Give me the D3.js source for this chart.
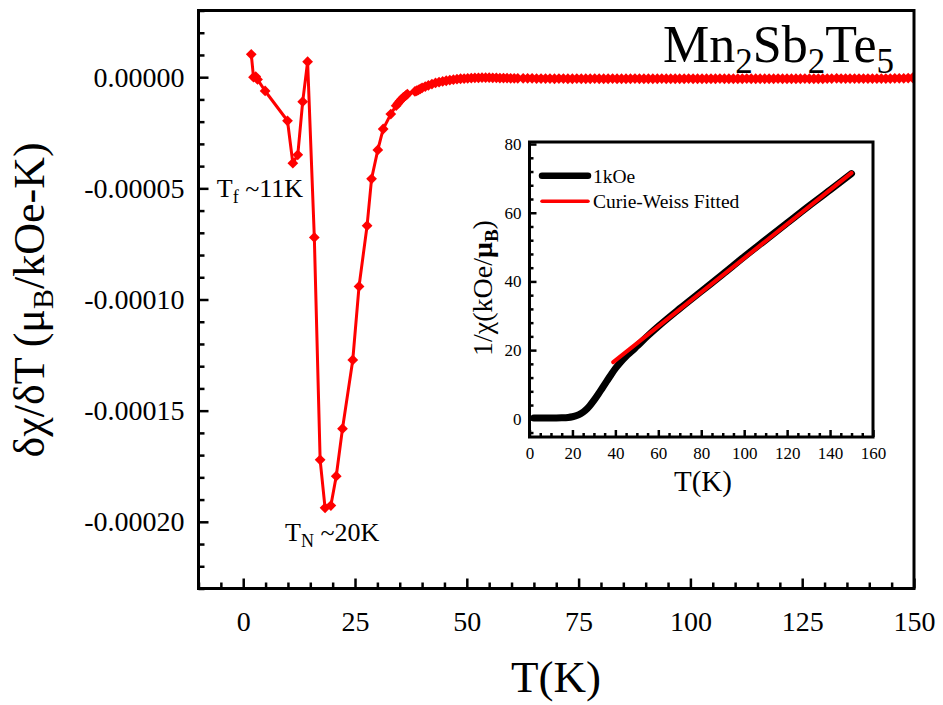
<!DOCTYPE html>
<html><head><meta charset="utf-8">
<script src="https://cdn.jsdelivr.net/npm/d3@7"></script>
<style>
body{margin:0;background:#fff}
svg{display:block}
text{font-family:"Liberation Serif","Times New Roman",serif;fill:#000}
</style>
</head><body>
<svg id="chart" width="943" height="705"></svg>
<script>
// ---------- main plot data: dChi/dT vs T ----------
const tMain = [
  1.8, 2.3, 2.8, 3.2, 4.9, 9.9, 11.1, 12.2, 13.3, 14.4,
  15.9, 17.2, 18.3, 19.6, 20.8, 22.2, 24.5, 25.9, 27.7, 28.7,
  30.1, 31.3, 33.0, 34.2, 34.6, 35.0, 35.4, 35.8, 36.3, 36.7,
  38.4, 38.8, 39.2, 39.6, 40.0, 40.7, 41.4, 42.2, 43.0, 43.8,
  44.6, 45.4, 46.2, 47.0, 47.8, 48.6, 49.4, 50.2, 51.0, 51.8,
  52.6, 53.4, 54.2, 55.0, 55.8, 56.6, 57.4, 58.2, 59.0, 59.8,
  60.6, 61.4, 62.6,
  63.6, 64.6, 65.6, 66.6, 67.6, 68.6, 69.6, 70.6, 71.6, 72.6,
  73.6, 74.6, 75.6, 76.6, 77.6, 78.6, 79.6, 80.6, 81.6, 82.6,
  83.6, 84.6, 85.6, 86.6, 87.6, 88.6, 89.6, 90.6, 91.6, 92.6,
  93.6, 94.6, 95.6, 96.6, 97.6, 98.6, 99.6, 100.6, 101.6, 102.6,
  103.6, 104.6, 105.6, 106.6, 107.6, 108.6, 109.6, 110.6, 111.6, 112.6,
  113.6, 114.6, 115.6, 116.6, 117.6, 118.6, 119.6, 120.6, 121.6, 122.6,
  123.6, 124.6, 125.6, 126.6, 127.6, 128.6, 129.6, 130.6, 131.6,
  132.7, 133.7, 134.7, 135.7, 136.7, 137.7, 138.7, 139.7, 140.7, 141.7,
  142.7, 143.7, 144.7, 145.7, 146.7, 147.7, 148.7, 149.7,
  150.0
];
const dChiMain = [
  1.03e-5, 0, 0.03e-5, -0.10e-5, -0.62e-5, -1.96e-5, -3.87e-5, -3.49e-5, -1.10e-5, 0.70e-5,
  -7.21e-5, -17.21e-5, -19.37e-5, -19.27e-5, -17.95e-5, -15.81e-5, -12.72e-5, -9.41e-5, -6.68e-5, -4.57e-5,
  -3.27e-5, -2.33e-5, -1.66e-5, -1.28e-5, -1.18e-5, -1.08e-5, -0.99e-5, -0.91e-5, -0.83e-5, -0.76e-5,
  -0.64e-5, -0.61e-5, -0.57e-5, -0.53e-5, -0.48e-5, -0.42e-5, -0.37e-5, -0.31e-5, -0.26e-5, -0.22e-5,
  -0.19e-5, -0.16e-5, -0.13e-5, -0.11e-5, -0.09e-5, -0.07e-5, -0.06e-5, -0.05e-5, -0.04e-5, -0.03e-5,
  -0.03e-5, -0.02e-5, -0.02e-5, -0.02e-5, -0.03e-5, -0.03e-5, -0.04e-5, -0.04e-5, -0.04e-5, -0.05e-5,
  -0.05e-5, -0.05e-5, -0.05e-5,
  -0.05e-5, -0.05e-5, -0.06e-5, -0.06e-5, -0.06e-5, -0.06e-5, -0.07e-5, -0.06e-5, -0.06e-5, -0.07e-5,
  -0.07e-5, -0.06e-5, -0.07e-5, -0.07e-5, -0.07e-5, -0.06e-5, -0.07e-5, -0.07e-5, -0.07e-5, -0.06e-5,
  -0.07e-5, -0.07e-5, -0.07e-5, -0.07e-5, -0.06e-5, -0.07e-5, -0.07e-5, -0.07e-5, -0.07e-5, -0.07e-5,
  -0.06e-5, -0.07e-5, -0.07e-5, -0.07e-5, -0.07e-5, -0.07e-5, -0.06e-5, -0.07e-5, -0.07e-5, -0.07e-5,
  -0.07e-5, -0.07e-5, -0.07e-5, -0.06e-5, -0.07e-5, -0.07e-5, -0.07e-5, -0.07e-5, -0.07e-5, -0.06e-5,
  -0.07e-5, -0.07e-5, -0.07e-5, -0.07e-5, -0.07e-5, -0.07e-5, -0.06e-5, -0.07e-5, -0.07e-5, -0.07e-5,
  -0.07e-5, -0.07e-5, -0.06e-5, -0.07e-5, -0.07e-5, -0.07e-5, -0.07e-5, -0.06e-5, -0.06e-5,
  -0.05e-5, -0.06e-5, -0.06e-5, -0.06e-5, -0.06e-5, -0.06e-5, -0.06e-5, -0.06e-5, -0.06e-5, -0.06e-5,
  -0.06e-5, -0.06e-5, -0.06e-5, -0.05e-5, -0.05e-5, -0.05e-5, -0.04e-5, -0.03e-5,
  0.02e-5
];
const xTicksMain = [0, 25, 50, 75, 100, 125, 150];
const xMinorMain = [-10, -5, 5, 10, 15, 20, 30, 35, 40, 45, 55, 60, 65, 70, 80, 85, 90, 95, 105, 110, 115, 120, 130, 135, 140, 145];
const yTicksMain = [0, -0.00005, -0.0001, -0.00015, -0.0002];
const yTickLabelsMain = ["0.00000", "-0.00005", "-0.00010", "-0.00015", "-0.00020"];
const yMinorMain = [0.00003, 0.00002, 0.00001, -0.00001, -0.00002, -0.00003, -0.00004, -0.00006, -0.00007, -0.00008, -0.00009,
  -0.00011, -0.00012, -0.00013, -0.00014, -0.00016, -0.00017, -0.00018, -0.00019, -0.00021, -0.00022, -0.00023];

// annotations (anchored in data coordinates)
const annoT = [-5.9, 9.35];
const annoV = [-5.37e-5, -20.87e-5];
const annoMain = ["T", "T"];
const annoSub = ["f", "N"];
const annoRest = [" ~11K", " ~20K"];

// ---------- inset data: 1/chi vs T ----------
const tInset = [2, 5, 10, 15, 18, 20, 22, 24, 26, 28, 30, 32, 34, 36, 38, 40, 42, 45, 48, 50, 55, 60, 70, 80, 90, 100, 110, 120, 130, 140, 150];
const invChiInset = [0.25, 0.25, 0.25, 0.3, 0.4, 0.6, 0.95, 1.55, 2.45, 3.75, 5.35, 7.15, 9.05, 10.95, 12.85, 14.65, 16.2, 18.2, 19.9, 21.1, 24.1, 26.9, 32.1, 37.1, 42.1, 47.2, 52.1, 57.0, 61.9, 66.6, 71.4];
const tFit = [39, 150];
const invChiFit = [16.5, 71.6];
const xTicksInset = [0, 20, 40, 60, 80, 100, 120, 140, 160];
const xMinorInset = [5, 10, 15, 25, 30, 35, 45, 50, 55, 65, 70, 75, 85, 90, 95, 105, 110, 115, 125, 130, 135, 145, 150, 155];
const yTicksInset = [0, 20, 40, 60, 80];
const yMinorInset = [-4, 4, 8, 12, 16, 24, 28, 32, 36, 44, 48, 52, 56, 64, 68, 72, 76];
const legendLabels = ["1kOe", "Curie-Weiss Fitted"];
const legendColors = ["#000000", "#ff0000"];

// ---------- drawing ----------
const svg = d3.select("#chart");
const red = "#ff0000";
const serif = '"Liberation Serif","Times New Roman",serif';

const x = d3.scaleLinear().domain([-10, 150]).range([198.5, 914]);
const y = d3.scaleLinear().domain([-0.00023, 0.00003]).range([588.5, 10.5]);

svg.append("defs").append("clipPath").attr("id", "clipMain")
  .append("rect").attr("x", 198.5).attr("y", 10.5).attr("width", 914 - 198.5).attr("height", 578);

// data line + markers
const mainData = tMain.map((t, i) => [t, dChiMain[i]]);
const gData = svg.append("g").attr("clip-path", "url(#clipMain)");
gData.append("path").datum(mainData)
  .attr("fill", "none").attr("stroke", red).attr("stroke-width", 3).attr("stroke-linejoin", "round")
  .attr("d", d3.line().x(d => x(d[0])).y(d => y(d[1])));
const diamond = d3.symbol().type(d3.symbolSquare).size(58)();
gData.selectAll("path.mk").data(mainData).join("path").attr("class", "mk")
  .attr("d", diamond).attr("fill", red)
  .attr("transform", d => `translate(${x(d[0])},${y(d[1])}) rotate(45)`);

// axes (ticks inward)
function styleAxis(g, fs) {
  g.attr("font-family", serif).attr("font-size", fs);
  g.select(".domain").remove();
  g.selectAll(".tick line").attr("stroke", "#000").attr("stroke-width", 2.5);
  g.selectAll("text").style("font-size", fs + "px").attr("fill", "#000").style("font-family", serif);
}
svg.append("g").attr("transform", "translate(0,588.5)")
  .call(d3.axisBottom(x).tickValues(xTicksMain).tickSize(-10).tickPadding(23).tickFormat(d3.format("d")))
  .call(g => styleAxis(g, 28));
svg.append("g").attr("transform", "translate(0,588.5)")
  .call(d3.axisBottom(x).tickValues(xMinorMain).tickSize(-6).tickFormat(""))
  .call(g => styleAxis(g, 28));
svg.append("g").attr("transform", "translate(198.5,0)")
  .call(d3.axisLeft(y).tickValues(yTicksMain).tickSize(-10).tickPadding(14)
    .tickFormat((d, i) => yTickLabelsMain[i]))
  .call(g => styleAxis(g, 28));
svg.append("g").attr("transform", "translate(198.5,0)")
  .call(d3.axisLeft(y).tickValues(yMinorMain).tickSize(-6).tickFormat(""))
  .call(g => styleAxis(g, 28));

// frame
svg.append("rect").attr("x", 198.5).attr("y", 10.5).attr("width", 914 - 198.5).attr("height", 578)
  .attr("fill", "none").attr("stroke", "#000").attr("stroke-width", 3);

// axis titles
svg.append("text").attr("x", 556).attr("y", 692).attr("text-anchor", "middle")
  .style("font-size", "45px").text("T(K)");
const yl = svg.append("text").attr("transform", "translate(44,300) rotate(-90)")
  .attr("text-anchor", "middle").style("font-size", "44px");
yl.append("tspan").text("δχ/δT (μ");
yl.append("tspan").attr("dy", 9).style("font-size", "30px").text("B");
yl.append("tspan").attr("dy", -9).text("/kOe-K)");

// title
const tt = svg.append("text").attr("x", 894).attr("y", 62).attr("text-anchor", "end").style("font-size", "52px");
tt.append("tspan").text("Mn");
tt.append("tspan").attr("dy", 11).style("font-size", "35px").text("2");
tt.append("tspan").attr("dy", -11).text("Sb");
tt.append("tspan").attr("dy", 11).style("font-size", "35px").text("2");
tt.append("tspan").attr("dy", -11).text("Te");
tt.append("tspan").attr("dy", 11).style("font-size", "35px").text("5");

// annotations
annoT.forEach((t, i) => {
  const a = svg.append("text").attr("x", x(t)).attr("y", y(annoV[i])).style("font-size", "26px");
  a.append("tspan").text(annoMain[i]);
  a.append("tspan").attr("dy", 6).style("font-size", "18px").text(annoSub[i]);
  a.append("tspan").attr("dy", -6).text(annoRest[i]);
});

// ---------- inset ----------
const xi = d3.scaleLinear().domain([0, 160]).range([529.5, 873]);
const yi = d3.scaleLinear().domain([-5.3, 80.6]).range([437, 142]);
svg.append("rect").attr("x", 529.5).attr("y", 142).attr("width", 873 - 529.5).attr("height", 295).attr("fill", "#fff");

svg.append("defs").append("clipPath").attr("id", "clipInset")
  .append("rect").attr("x", 529.5).attr("y", 142).attr("width", 873 - 529.5).attr("height", 295);
const gi = svg.append("g").attr("clip-path", "url(#clipInset)");
gi.append("path").datum(tInset.map((t, i) => [t, invChiInset[i]]))
  .attr("fill", "none").attr("stroke", "#000").attr("stroke-width", 7).attr("stroke-linecap", "round").attr("stroke-linejoin", "round")
  .attr("d", d3.line().curve(d3.curveMonotoneX).x(d => xi(d[0])).y(d => yi(d[1])));
gi.append("path").datum(tFit.map((t, i) => [t, invChiFit[i]]))
  .attr("fill", "none").attr("stroke", red).attr("stroke-width", 4).attr("stroke-linecap", "round")
  .attr("d", d3.line().x(d => xi(d[0])).y(d => yi(d[1])));

svg.append("g").attr("transform", "translate(0,437)")
  .call(d3.axisBottom(xi).tickValues(xTicksInset).tickSize(-7).tickPadding(10).tickFormat(d3.format("d")))
  .call(g => styleAxis(g, 17));
svg.append("g").attr("transform", "translate(0,437)")
  .call(d3.axisBottom(xi).tickValues(xMinorInset).tickSize(-4).tickFormat(""))
  .call(g => styleAxis(g, 17));
svg.append("g").attr("transform", "translate(529.5,0)")
  .call(d3.axisLeft(yi).tickValues(yTicksInset).tickSize(-7).tickPadding(8).tickFormat(d3.format("d")))
  .call(g => styleAxis(g, 17));
svg.append("g").attr("transform", "translate(529.5,0)")
  .call(d3.axisLeft(yi).tickValues(yMinorInset).tickSize(-4).tickFormat(""))
  .call(g => styleAxis(g, 17));
svg.append("rect").attr("x", 529.5).attr("y", 142).attr("width", 873 - 529.5).attr("height", 295)
  .attr("fill", "none").attr("stroke", "#000").attr("stroke-width", 3);

// legend
const legY = [175.7, 201.3];
const legW = [6.5, 3.5];
legendLabels.forEach((lab, i) => {
  svg.append("line").attr("x1", 542).attr("x2", 588).attr("y1", legY[i]).attr("y2", legY[i])
    .attr("stroke", legendColors[i]).attr("stroke-width", legW[i]).attr("stroke-linecap", "round");
  svg.append("text").attr("x", 593).attr("y", legY[i] + 7).style("font-size", "19.5px").text(lab);
});

// inset axis titles
svg.append("text").attr("x", 703).attr("y", 491).attr("text-anchor", "middle").style("font-size", "29px").text("T(K)");
const yil = svg.append("text").attr("transform", "translate(492,288) rotate(-90)")
  .attr("text-anchor", "middle").style("font-size", "28px");
yil.append("tspan").text("1/χ(kOe/");
yil.append("tspan").style("font-weight", "bold").text("μ");
yil.append("tspan").attr("dy", 6).style("font-weight", "bold").style("font-size", "19px").text("B");
yil.append("tspan").attr("dy", -6).text(")");
</script>
</body></html>
